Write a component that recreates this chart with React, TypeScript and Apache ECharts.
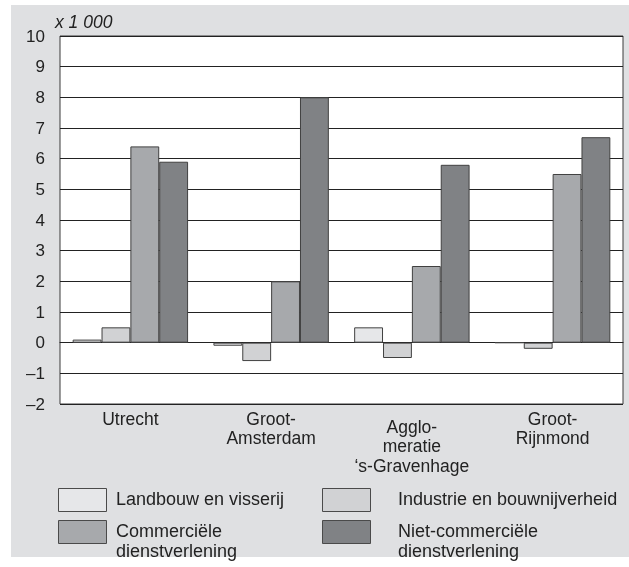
import React, { useEffect, useRef } from "react";
import * as echarts from "echarts";

const categories = ["Utrecht", "Groot-\nAmsterdam", "Agglo-\nmeratie\n\u2018s-Gravenhage", "Groot-\nRijnmond"];
const seriesNames = [
  "Landbouw en visserij",
  "Industrie en bouwnijverheid",
  "Commerci\u00eble dienstverlening",
  "Niet-commerci\u00eble dienstverlening",
];
const legendLabels = [
  "Landbouw en visserij",
  "Industrie en bouwnijverheid",
  "Commerci\u00eble\ndienstverlening",
  "Niet-commerci\u00eble\ndienstverlening",
];
const landbouw = [0.1, -0.1, 0.5, 0];
const industrie = [0.5, -0.6, -0.5, -0.2];
const commercieel = [6.4, 2.0, 2.5, 5.5];
const nietCommercieel = [5.9, 8.0, 5.8, 6.7];
const unitLabel = "x 1 000";

const colors = ["#e6e7e9", "#d1d2d4", "#a7a9ac", "#808285"];
const FONT = "'Liberation Sans', Arial, Helvetica, sans-serif";

export default function App() {
  const ref = useRef<HTMLDivElement>(null);
  useEffect(() => {
    const chart = echarts.init(ref.current!, null, { renderer: "svg" });
    const values = [landbouw, industrie, commercieel, nietCommercieel];
    const legendPos = [
      { bx: 58, by: 488, tx: 116 },
      { bx: 322, by: 488, tx: 398 },
      { bx: 58, by: 520, tx: 116 },
      { bx: 322, by: 520, tx: 398 },
    ];
    const legendGraphics: any[] = [];
    legendLabels.forEach((lab, i) => {
      const p = legendPos[i];
      legendGraphics.push({
        type: "rect",
        shape: { x: p.bx + 0.5, y: p.by + 0.5, width: 48, height: 23 },
        style: { fill: colors[i], stroke: "#4a4a4a", lineWidth: 1 },
      });
      legendGraphics.push({
        type: "text",
        x: p.tx,
        y: i < 2 ? p.by + 1 : p.by + 0.5,
        style: {
          text: lab,
          fill: "#222",
          font: `18px ${FONT}`,
          lineHeight: 20,
          textVerticalAlign: "top",
        },
      });
    });
    chart.setOption({
      animation: false,
      textStyle: { fontFamily: FONT },
      graphic: [
        {
          type: "rect",
          z: -10,
          silent: true,
          shape: { x: 11, y: 5, width: 618, height: 552 },
          style: { fill: "#dfe0e2" },
        },
        {
          type: "rect",
          z: -9,
          silent: true,
          shape: { x: 60, y: 36, width: 563, height: 368 },
          style: { fill: "#ffffff" },
        },
        {
          type: "text",
          x: 55,
          y: 22,
          style: {
            text: unitLabel,
            fill: "#222",
            font: `italic 17.5px ${FONT}`,
            textVerticalAlign: "middle",
          },
        },
        ...legendGraphics,
      ],
      grid: {
        left: 60,
        top: 36,
        right: 6,
        bottom: 163,
        show: true,
        backgroundColor: "transparent",
        borderColor: "#3a3a3a",
        borderWidth: 1,
      },
      xAxis: {
        type: "category",
        data: categories.map((c, i) =>
          i === 2 ? { value: c, textStyle: { padding: [8, 0, 0, 0] } } : c
        ),
        axisLine: { show: true, lineStyle: { color: "#222", width: 1 } },
        axisTick: { show: false },
        axisLabel: {
          color: "#222",
          fontSize: 17.5,
          lineHeight: 19.5,
          margin: 5,
          interval: 0,
          fontFamily: FONT,
        },
      },
      yAxis: {
        type: "value",
        min: -2,
        max: 10,
        interval: 1,
        axisLine: { show: false },
        axisTick: { show: false },
        splitLine: { show: true, lineStyle: { color: "#222", width: 1 } },
        axisLabel: {
          color: "#222",
          fontSize: 17,
          margin: 15,
          fontFamily: FONT,
          formatter: (v: number) => (v < 0 ? "\u2013" + Math.abs(v) : String(v)),
        },
      },
      series: values.map((d, i) => ({
        name: seriesNames[i],
        type: "bar",
        data: d,
        barGap: "0%",
        barCategoryGap: "18%",
        itemStyle: { color: colors[i], borderColor: "#404040", borderWidth: 1 },
        z: 3,
      })),
    });
    return () => chart.dispose();
  }, []);
  return (
    <div
      ref={ref}
      style={{ position: "fixed", left: 0, top: 0, width: 629, height: 567 }}
    />
  );
}
